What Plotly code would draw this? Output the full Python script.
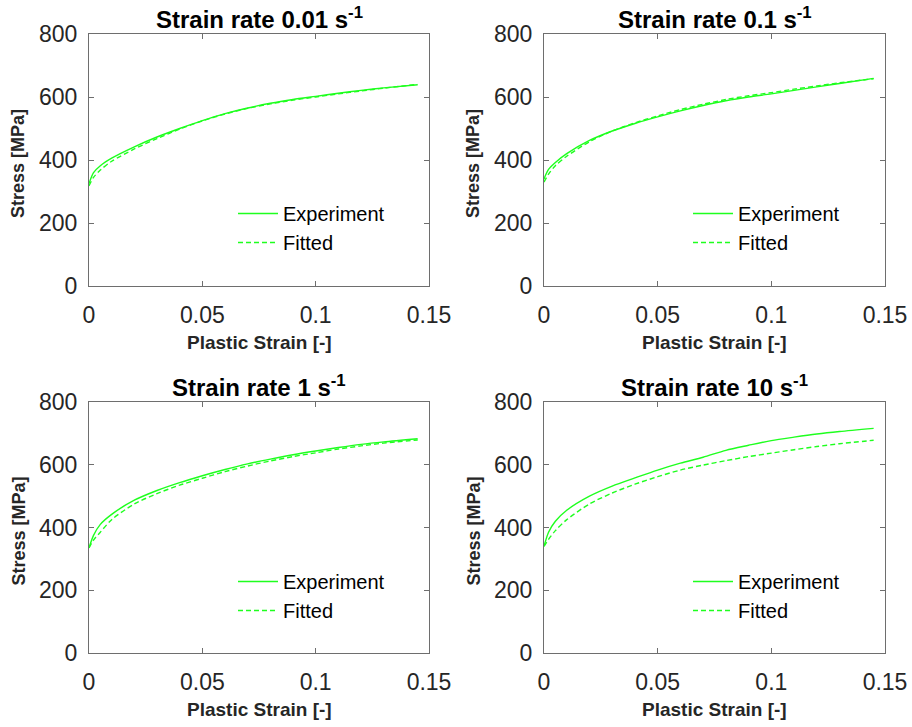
import plotly.graph_objects as go

# ---------------- data ----------------
titles = ["Strain rate 0.01 s<sup>-1</sup>", "Strain rate 0.1 s<sup>-1</sup>",
          "Strain rate 1 s<sup>-1</sup>", "Strain rate 10 s<sup>-1</sup>"]

strain = [0, 0.002, 0.005, 0.01, 0.02, 0.03, 0.04, 0.05, 0.06, 0.07, 0.08,
          0.09, 0.10, 0.11, 0.12, 0.13, 0.145]

exp_001 = [325, 360, 382, 406, 442, 473, 500, 525, 547, 565, 580, 592, 602, 612, 621, 629, 639]
fit_001 = [318, 345, 368, 396, 435, 468, 498, 524, 546, 564, 578, 590, 600, 610, 619, 628, 640]

exp_01 = [340, 370, 392, 420, 462, 492, 516, 537, 556, 573, 588, 600, 610, 621, 632, 643, 659]
fit_01 = [330, 355, 382, 412, 458, 492, 518, 540, 560, 577, 592, 604, 614, 625, 635, 645, 658]

exp_1 = [335, 375, 410, 442, 487, 518, 543, 565, 585, 603, 618, 632, 644, 655, 665, 673, 683]
fit_1 = [335, 360, 385, 425, 475, 508, 535, 557, 578, 596, 612, 626, 638, 650, 660, 669, 679]

exp_10 = [340, 385, 420, 455, 500, 532, 558, 583, 605, 624, 646, 662, 677, 688, 698, 706, 716]
fit_10 = [340, 362, 390, 425, 475, 510, 538, 562, 583, 599, 613, 626, 637, 648, 658, 667, 678]

experiments = [exp_001, exp_01, exp_1, exp_10]
fits = [fit_001, fit_01, fit_1, fit_10]

x_ticks = [0, 0.05, 0.1, 0.15]
x_tick_text = ["0", "0.05", "0.1", "0.15"]
y_ticks = [0, 200, 400, 600, 800]

# ---------------- layout geometry ----------------
W, H = 912, 727
GREEN = "#1eff1e"
AXC = "#6e6e6e"
TXT = "#262626"
FONT = "Liberation Sans, Arial, sans-serif"

# pixel boxes (left, right, top, bottom)
boxes = [(89, 429, 34, 286), (544, 885, 34, 286),
         (89, 429, 402, 653), (544, 885, 402, 653)]

fig = go.Figure()
layout = dict(
    width=W, height=H, margin=dict(l=0, r=0, t=0, b=0, pad=0, autoexpand=False),
    paper_bgcolor="white", plot_bgcolor="white",
    font=dict(family=FONT, color=TXT),
    annotations=[],
)

for i in range(4):
    l, r, t, b = boxes[i]
    sfx = "" if i == 0 else str(i + 1)
    xa, ya = "x" + sfx, "y" + sfx
    lg = "legend" + sfx
    fig.add_trace(go.Scatter(x=strain, y=experiments[i], mode="lines", name="Experiment",
                             line=dict(color=GREEN, width=1.4, shape="spline", smoothing=0.8),
                             xaxis=xa, yaxis=ya, legend=lg))
    fig.add_trace(go.Scatter(x=strain, y=fits[i], mode="lines", name="Fitted",
                             line=dict(color=GREEN, width=1.4, dash="5px,3px", shape="spline", smoothing=0.8),
                             xaxis=xa, yaxis=ya, legend=lg))
    axcommon = dict(showgrid=False, zeroline=False, showline=True, linecolor=AXC, linewidth=1.3,
                    mirror="ticks", ticks="inside", ticklen=5, tickcolor=AXC, tickwidth=1.3,
                    automargin=False,
                    tickfont=dict(size=23, color=TXT, family=FONT))
    layout["xaxis" + sfx] = dict(domain=[l / W, r / W], range=[0, 0.15], tickvals=x_ticks,
                                 ticktext=x_tick_text, anchor=ya, ticklabelstandoff=8, **axcommon)
    layout["yaxis" + sfx] = dict(domain=[1 - b / H, 1 - t / H], range=[0, 800], tickvals=y_ticks,
                                 anchor=xa, ticklabelstandoff=6, **axcommon)
    # legend inside the lower right part
    layout[lg] = dict(x=(l + 144) / W, y=1 - (t + 160) / H, xanchor="left", yanchor="top",
                      xref="paper", yref="paper", bgcolor="rgba(0,0,0,0)",
                      font=dict(size=20, color="#000000", family=FONT),
                      itemwidth=40, tracegroupgap=0)
    cx = (l + r) / 2
    layout["annotations"].append(dict(text="<b>" + titles[i] + "</b>", x=cx / W, y=1 - (t - 16) / H,
                                      xref="paper", yref="paper", showarrow=False,
                                      xanchor="center", yanchor="middle",
                                      font=dict(size=24, color="#000000", family=FONT)))
    layout["annotations"].append(dict(text="<b>Plastic Strain [-]</b>", x=cx / W, y=1 - (b + 56) / H,
                                      xref="paper", yref="paper", showarrow=False,
                                      xanchor="center", yanchor="middle",
                                      font=dict(size=19, color=TXT, family=FONT)))
    layout["annotations"].append(dict(text="<b>Stress [MPa]</b>", x=(l - 71) / W, y=1 - ((t + b) / 2 + 4) / H,
                                      xref="paper", yref="paper", showarrow=False, textangle=-90,
                                      xanchor="center", yanchor="middle",
                                      font=dict(size=18, color=TXT, family=FONT)))

fig.update_layout(**layout)
fig.write_html("out.html")
